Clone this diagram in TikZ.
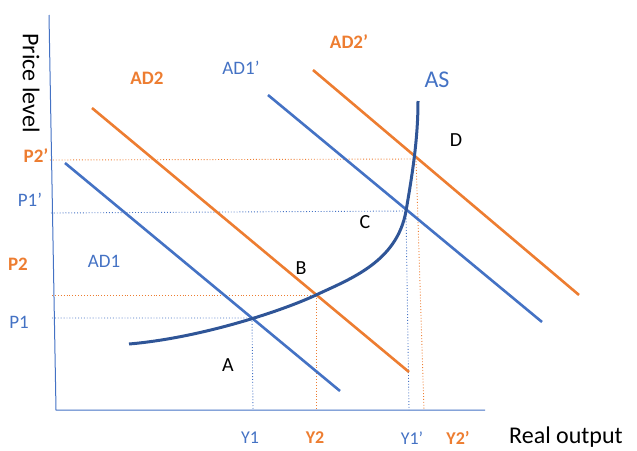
\documentclass[tikz,border=0pt]{standalone}
\usepackage{fontspec}
\setmainfont{Carlito}
\definecolor{adblue}{HTML}{4472C4}
\definecolor{adorange}{HTML}{ED7D31}
\definecolor{asblue}{HTML}{2F5597}
\tikzset{
  axisline/.style={adblue, line width=1pt},
  bluecurve/.style={adblue, line width=2.6pt},
  orangecurve/.style={adorange, line width=2.6pt},
  ascurve/.style={asblue, line width=3pt, line join=round},
  bluedot/.style={adblue, line width=0.9pt, dotted},
  orangedot/.style={adorange, line width=0.9pt, dotted},
  bluelab/.style={text=adblue, font=\fontsize{19}{22}\selectfont},
  orangelab/.style={text=adorange, font=\fontsize{19}{22}\selectfont\bfseries},
  pointlab/.style={text=black, font=\fontsize{20}{24}\selectfont},
  axislab/.style={text=black, font=\fontsize{24}{28}\selectfont},
}
\begin{document}
\begin{tikzpicture}[x=1pt,y=-1pt]
\useasboundingbox (0,0) rectangle (637,450);
% axes
\coordinate (ytop) at (49,15);
\coordinate (origin) at (56,410);
\coordinate (xend) at (485,410);
\draw[axisline] (ytop) -- (origin) -- (xend);
% equilibrium points
\coordinate (A) at (252,318);
\coordinate (B) at (316,295);
\coordinate (C) at (406,211);
\coordinate (D) at (416,159);
\coordinate (P1ax) at (52,318);
\coordinate (P2ax) at (52,295);
\coordinate (P1pax) at (51,213);
\coordinate (P2pax) at (50,160);
\coordinate (Y1ax) at (253,410);
\coordinate (Y2ax) at (316,410);
\coordinate (Y1pax) at (409,410);
\coordinate (Y2pax) at (424,410);
% dotted guides
\draw[bluedot] (P1ax) -- (A) -- (Y1ax);
\draw[orangedot] (P2ax) -- (B) -- (Y2ax);
\draw[bluedot] (P1pax) -- (C) -- (Y1pax);
\draw[orangedot] (P2pax) -- (D) -- (Y2pax);
% AD curves
\coordinate (ad1s) at (65,163);
\coordinate (ad1e) at (340,391);
\coordinate (ad2s) at (92,108);
\coordinate (ad2e) at (409,372);
\coordinate (ad1ps) at (268,95);
\coordinate (ad1pe) at (542,322);
\coordinate (ad2ps) at (313,70);
\coordinate (ad2pe) at (579,295);
\draw[bluecurve] (ad1s) -- (ad1e);
\draw[orangecurve] (ad2s) -- (ad2e);
\draw[bluecurve] (ad1ps) -- (ad1pe);
\draw[orangecurve] (ad2ps) -- (ad2pe);
% AS curve
\coordinate (asstart) at (129,344);
\coordinate (asend) at (418,101);
\draw[ascurve] (asstart) .. controls (200,338) and (282,311) .. (B)
  .. controls (350,279) and (397,262) .. (C)
  .. controls (412,176) and (418,140) .. (asend);
% labels
\node[axislab, rotate=-90] (ylab) at (31,83) {Price level};
\node[axislab] (xlab) at (566,437) {Real output};
\node[orangelab] (lAD2) at (147,78) {AD2};
\node[bluelab] (lAD1p) at (241,68) {AD1’};
\node[orangelab] (lAD2p) at (349,42) {AD2’};
\node[bluelab, font=\fontsize{24}{28}\selectfont] (lAS) at (437,80) {AS};
\node[bluelab] (lAD1) at (104,261) {AD1};
\node[pointlab] (lA) at (228,365) {A};
\node[pointlab] (lB) at (301,268) {B};
\node[pointlab] (lC) at (365,222) {C};
\node[pointlab] (lD) at (456,140) {D};
\node[orangelab] (lP2p) at (36,156) {P2’};
\node[bluelab] (lP1p) at (30,200) {P1’};
\node[orangelab] (lP2) at (18,264) {P2};
\node[bluelab] (lP1) at (19,322) {P1};
\node[bluelab, font=\fontsize{18}{20}\selectfont] (lY1) at (250,438) {Y1};
\node[orangelab, font=\fontsize{18}{20}\selectfont\bfseries] (lY2) at (315,438) {Y2};
\node[bluelab, font=\fontsize{18}{20}\selectfont] (lY1p) at (412,438) {Y1’};
\node[orangelab, font=\fontsize{18}{20}\selectfont\bfseries] (lY2p) at (458,438) {Y2’};
\end{tikzpicture}
\end{document}
